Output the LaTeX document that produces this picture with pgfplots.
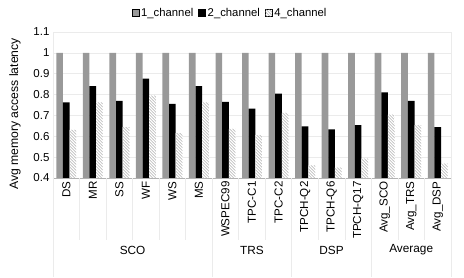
\documentclass[border=0pt]{standalone}
\usepackage{pgfplots}
\pgfplotsset{compat=1.18}
\usepackage{pgfplotstable}
\usepackage{fontspec}
\setmainfont{Liberation Sans}
\usetikzlibrary{patterns}
\definecolor{cone}{HTML}{999999}
\definecolor{gridc}{HTML}{EBEBEB}
\pgfplotstableread{
idx name c1 c2 c4
0 DS 1 0.763 0.631
1 MR 1 0.840 0.763
2 SS 1 0.770 0.644
3 WF 1 0.877 0.795
4 WS 1 0.755 0.615
5 MS 1 0.840 0.763
6 WSPEC99 1 0.765 0.636
7 TPC-C1 1 0.733 0.606
8 TPC-C2 1 0.805 0.712
9 TPCH-Q2 1 0.647 0.460
10 TPCH-Q6 1 0.633 0.450
11 TPCH-Q17 1 0.654 0.493
12 Avg_SCO 1 0.810 0.704
13 Avg_TRS 1 0.770 0.654
14 Avg_DSP 1 0.644 0.469
}\data
\begin{document}
\begin{tikzpicture}[x=1pt,y=1pt]
\path (0,0) rectangle (464,277);
\begin{axis}[
  at={(53pt,99pt)}, anchor=south west,
  scale only axis, width=398pt, height=146pt,
  xmin=-0.5, xmax=14.5, ymin=0.4, ymax=1.1,
  ytick={0.4,0.5,...,1.1},
  xtick={0,...,14},
  xticklabels={DS,MR,SS,WF,WS,MS,WSPEC99,TPC-C1,TPC-C2,TPCH-Q2,TPCH-Q6,TPCH-Q17,Avg\_SCO,Avg\_TRS,Avg\_DSP},
  x tick label style={rotate=90, anchor=east, font=\fontsize{11.6}{13}\selectfont},
  y tick label style={font=\fontsize{11.5}{13}\selectfont},
  /pgf/number format/assume math mode=true,
  major tick length=0pt,
  ymajorgrids, grid style={gridc, line width=0.6pt},
  axis line style={gridc, line width=0.6pt},
  clip=false,
  legend style={draw=none, at={(axis description cs:0.445,1.13)}, anchor=center, legend columns=-1,
    font=\fontsize{11.3}{13}\selectfont, /tikz/every even column/.append style={column sep=3pt},
    inner sep=0pt},
  legend image code/.code={\draw[#1] (0pt,-3.5pt) rectangle (7pt,3.5pt);},
]
\addplot[ybar, bar width=0.25, bar shift=-0.25, fill=cone, draw=none] table[x=idx,y=c1]{\data};
\addplot[ybar, bar width=0.25, bar shift=0, fill=black, draw=none] table[x=idx,y=c2]{\data};
\addplot[ybar, bar width=0.25, bar shift=0.25, fill=white, draw=none, postaction={pattern=north west lines, pattern color=gray!80}] table[x=idx,y=c4]{\data};
\legend{1\_channel,2\_channel,4\_channel}
\draw[gray!60, line width=0.6pt] (axis cs:-0.5,0.4) -- (axis cs:14.5,0.4);
\pgfplotsinvokeforeach{0.5,1.5,2.5,3.5,4.5,6.5,7.5,9.5,10.5,12.5,13.5}{
  \draw[gridc, line width=0.6pt] (axis cs:#1,0.4) -- ([yshift=-62pt]axis cs:#1,0.4);
}
\pgfplotsinvokeforeach{-0.5,5.5,8.5,11.5,14.5}{
  \draw[gridc, line width=0.6pt] (axis cs:#1,0.4) -- ([yshift=-99pt]axis cs:#1,0.4);
}
\node[font=\fontsize{11.8}{13}\selectfont] at ([yshift=-72pt]axis cs:2.5,0.4) {SCO};
\node[font=\fontsize{11.8}{13}\selectfont] at ([yshift=-72pt]axis cs:7,0.4) {TRS};
\node[font=\fontsize{11.8}{13}\selectfont] at ([yshift=-72pt]axis cs:10,0.4) {DSP};
\node[font=\fontsize{11.8}{13}\selectfont] at ([yshift=-72pt]axis cs:13,0.4) {Average};
\node[rotate=90, font=\fontsize{12.2}{14}\selectfont] at ([xshift=-38pt]axis cs:-0.5,0.707) {Avg memory access latency};
\end{axis}
\end{tikzpicture}
\end{document}
